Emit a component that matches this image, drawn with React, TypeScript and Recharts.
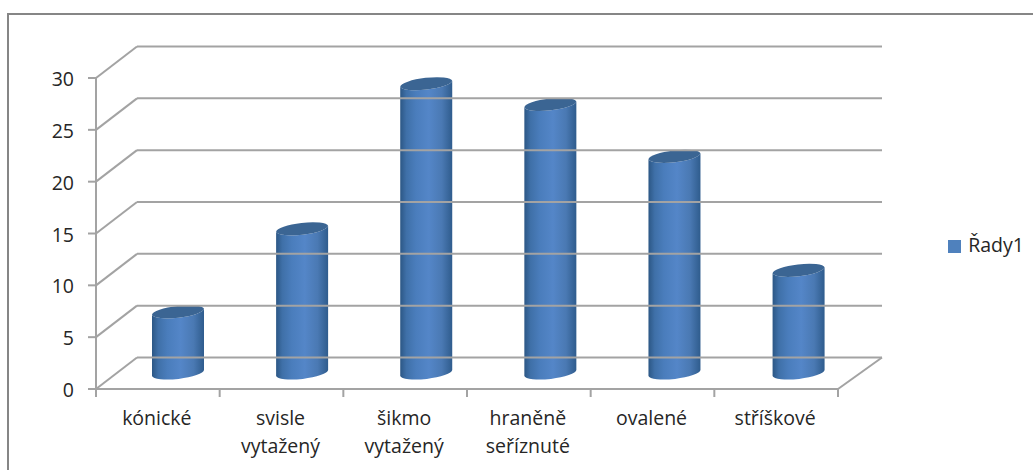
import { BarChart, Bar, XAxis, YAxis, Legend } from "recharts";

const categories = ["kónické", "svisle vytažený", "šikmo vytažený", "hraněně seříznuté", "ovalené", "stříškové"];
const values = [6, 14, 28, 26, 21, 10];
const yTicks = [0, 5, 10, 15, 20, 25, 30];
const seriesName = "Řady1";

const data = categories.map((name, i) => ({ name, [seriesName]: values[i] }));

const FONT = "'Open Sans', sans-serif";
const FONT_SIZE = 19.5;
const TEXT = "#262626";
const GRID = "#a3a3a3";

// fake 3D depth of the walls and of the bars
const WALL_DX = 41;
const WALL_DY = -31.5;
const BAR_DX = 20;
const BAR_DY = -16;
const BAR_DRIFT = 0.45; // bars sit slightly wider apart than the axis bands
const AXIS_Y = 389;
const RIGHT_EDGE = 838;

const YTick = ({ x, y, payload }: any) => (
  <g>
    <text x={x - 22} y={y + 8} textAnchor="end" fontFamily={FONT} fontSize={FONT_SIZE} fill={TEXT}>
      {payload.value}
    </text>
    <line x1={x - 8} y1={y} x2={x} y2={y} stroke={GRID} strokeWidth={2} />
    <line x1={x} y1={y} x2={x + WALL_DX} y2={y + WALL_DY} stroke={GRID} strokeWidth={2} />
    <line x1={x + WALL_DX} y1={y + WALL_DY} x2={RIGHT_EDGE + 44} y2={y + WALL_DY} stroke={GRID} strokeWidth={2} />
    {payload.value === 0 && (
      <line x1={RIGHT_EDGE} y1={y} x2={RIGHT_EDGE + 44} y2={y + WALL_DY} stroke={GRID} strokeWidth={2} />
    )}
  </g>
);

const XTick = ({ x, payload, index, visibleTicksCount, width }: any) => {
  const band = width / visibleTicksCount;
  const lines = String(payload.value).split(" ");
  return (
    <g>
      <line x1={x - band / 2} y1={AXIS_Y} x2={x - band / 2} y2={AXIS_Y + 8} stroke={GRID} strokeWidth={2} />
      {index === visibleTicksCount - 1 && (
        <line x1={x + band / 2} y1={AXIS_Y} x2={x + band / 2} y2={AXIS_Y + 8} stroke={GRID} strokeWidth={2} />
      )}
      {lines.map((line, i) => (
        <text key={i} x={x - 1} y={425 + i * 28} textAnchor="middle" fontFamily={FONT} fontSize={FONT_SIZE} fill={TEXT}>
          {line}
        </text>
      ))}
    </g>
  );
};

const Cylinder = ({ x, y, width, height, index }: any) => {
  const left = x + BAR_DX + index * BAR_DRIFT;
  const right = left + width;
  const top = y + BAR_DY + 1;
  const bottom = y + height + BAR_DY;
  const rx = width / 2 + 0.2;
  const ry = 6.2;
  const tilt = 3;
  const rot = -6.6;
  return (
    <g>
      <path
        d={`M${left},${top + tilt} L${left},${bottom + tilt} A${rx},${ry} ${rot} 0 0 ${right},${bottom - tilt} L${right},${top - tilt} A${rx},${ry} ${rot} 0 1 ${left},${top + tilt} Z`}
        fill="url(#cylinderFill)"
      />
      <path
        d={`M${left},${top + tilt} A${rx},${ry} ${rot} 0 1 ${right},${top - tilt} A${rx},${ry} ${rot} 0 1 ${left},${top + tilt} Z`}
        fill="#3b6593"
      />
    </g>
  );
};

export default function App() {
  return (
    <div style={{ position: "absolute", left: 0, top: 0, width: 1033, height: 470, overflow: "hidden", background: "#fff" }}>
      <div
        style={{
          position: "absolute",
          left: 7,
          top: 13,
          width: 1100,
          height: 600,
          borderLeft: "2px solid #868686",
          borderTop: "2px solid #868686",
        }}
      />
      <div style={{ position: "absolute", left: 0, top: 0 }}>
        <BarChart width={1033} height={470} data={data} margin={{ top: 78, right: 195, left: 0, bottom: 0 }} barSize={52}>
          <defs>
            <linearGradient id="cylinderFill" x1="0" y1="0" x2="1" y2="0">
              <stop offset="0" stopColor="#2c5785" />
              <stop offset="0.12" stopColor="#3f70a8" />
              <stop offset="0.3" stopColor="#4a7dbc" />
              <stop offset="0.55" stopColor="#5486c8" />
              <stop offset="0.8" stopColor="#4a79b3" />
              <stop offset="1" stopColor="#2f5c8d" />
            </linearGradient>
          </defs>
          <XAxis
            dataKey="name"
            height={81}
            interval={0}
            stroke={GRID}
            strokeWidth={2}
            tickLine={false}
            tick={<XTick />}
          />
          <YAxis
            width={96}
            domain={[0, 30]}
            ticks={yTicks}
            stroke={GRID}
            strokeWidth={2}
            tickLine={false}
            tickSize={0}
            tickMargin={0}
            tick={<YTick />}
          />
          <Legend
            layout="horizontal"
            verticalAlign="middle"
            align="center"
            iconType="square"
            iconSize={13}
            wrapperStyle={{ left: 946, top: 231, width: 90, height: 26, fontFamily: FONT, fontSize: FONT_SIZE }}
            formatter={(value: string) => <span style={{ color: TEXT, marginLeft: 3 }}>{value}</span>}
          />
          <Bar dataKey={seriesName} fill="#4f81bd" isAnimationActive={false} shape={<Cylinder />} />
        </BarChart>
      </div>
    </div>
  );
}
